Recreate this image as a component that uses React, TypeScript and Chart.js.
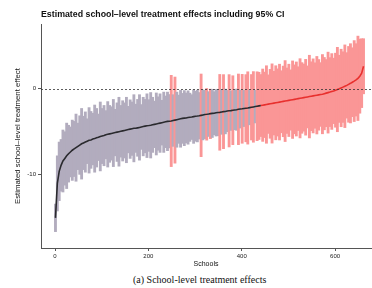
import React, { useEffect, useRef } from "react";
import { Chart, registerables } from "chart.js";

Chart.register(...registerables);

const titleText = "Estimated school\u2013level treatment effects including 95% CI";
const yAxisTitle = "Estimated school\u2013level treatment effect";
const xAxisTitle = "Schools";
const captionText = "(a) School-level treatment effects";

const xTicks = [0, 200, 400, 600];
const yTicks = [-10, 0];

// schools ranked by estimated effect; one entry every `schoolStep` ranks
const firstSchool = 1;
const schoolStep = 4;
const lineColorSwitchSchool = 440;

const estimates = [
  -15.0, -11.0, -9.6, -8.9, -8.4, -8.1, -7.8, -7.55, -7.35, -7.15,
  -7.0, -6.85, -6.7, -6.55, -6.4, -6.3, -6.2, -6.1, -6.0, -5.95,
  -5.85, -5.8, -5.7, -5.65, -5.55, -5.5, -5.45, -5.35, -5.3, -5.25,
  -5.2, -5.15, -5.1, -5.05, -5.0, -4.95, -4.9, -4.85, -4.8, -4.75,
  -4.7, -4.65, -4.6, -4.6, -4.55, -4.5, -4.45, -4.4, -4.35, -4.3,
  -4.28, -4.25, -4.2, -4.15, -4.1, -4.05, -4.0, -3.95, -3.9, -3.85,
  -3.8, -3.78, -3.75, -3.7, -3.65, -3.6, -3.55, -3.5, -3.45, -3.42,
  -3.4, -3.35, -3.32, -3.3, -3.25, -3.2, -3.18, -3.15, -3.1, -3.05,
  -3.0, -2.98, -2.95, -2.9, -2.87, -2.85, -2.8, -2.77, -2.75, -2.7,
  -2.67, -2.65, -2.6, -2.57, -2.55, -2.5, -2.47, -2.44, -2.4, -2.37,
  -2.34, -2.3, -2.27, -2.24, -2.2, -2.16, -2.12, -2.08, -2.04, -2.0,
  -1.96, -1.92, -1.88, -1.84, -1.8, -1.76, -1.72, -1.68, -1.64, -1.6,
  -1.56, -1.52, -1.48, -1.44, -1.4, -1.36, -1.32, -1.28, -1.24, -1.2,
  -1.16, -1.12, -1.08, -1.04, -1.0, -0.96, -0.92, -0.88, -0.84, -0.8,
  -0.76, -0.72, -0.68, -0.64, -0.58, -0.52, -0.46, -0.4, -0.33, -0.26,
  -0.18, -0.1, -0.02, 0.08, 0.18, 0.28, 0.38, 0.5, 0.62, 0.75,
  0.88, 1.02, 1.2, 1.45, 1.8, 2.6,
];

const ciHalfWidths = [
  1.6, 3.2, 3.4, 3.0, 3.6, 3.1, 3.8, 3.3, 2.9, 3.5,
  3.2, 3.9, 2.7, 3.4, 4.1, 3.1, 3.5, 2.6, 3.8, 3.3,
  3.0, 3.9, 3.4, 2.7, 4.0, 3.2, 3.5, 2.8, 3.8, 3.3,
  3.1, 3.9, 2.7, 3.4, 4.0, 3.0, 3.5, 3.2, 3.8, 2.7,
  3.4, 3.1, 3.9, 2.8, 3.3, 3.8, 2.6, 3.4, 3.1, 3.7,
  3.0, 3.8, 3.2, 2.7, 3.6, 3.1, 3.4, 2.6, 3.5, 3.0,
  3.4, 3.1, 5.3, 3.0, 5.0, 3.2, 2.8, 3.3, 2.9, 3.2,
  2.9, 3.1, 2.8, 2.6, 3.1, 2.9, 3.0, 2.7, 4.8, 2.9,
  2.8, 3.0, 2.6, 2.9, 2.8, 2.5, 2.7, 2.7, 4.4, 2.6,
  4.3, 2.6, 2.4, 4.2, 2.3, 4.0, 2.3, 2.4, 4.1, 2.2,
  4.0, 2.1, 3.9, 4.2, 2.0, 3.8, 4.1, 1.9, 4.0, 3.9,
  3.6, 4.2, 3.8, 4.5, 3.4, 4.0, 4.6, 3.7, 4.3, 3.9,
  4.4, 3.6, 4.1, 4.7, 3.8, 4.2, 3.5, 4.5, 4.0, 4.3,
  3.7, 4.6, 4.1, 3.9, 4.4, 3.6, 4.8, 4.0, 4.3, 3.8,
  4.5, 4.1, 3.7, 4.6, 4.2, 3.9, 4.7, 4.0, 4.4, 3.8,
  4.3, 4.9, 3.9, 4.5, 4.1, 4.8, 3.8, 4.4, 4.6, 4.0,
  4.7, 4.2, 4.9, 4.3, 4.0, 3.2,
];

const greyBar = "rgb(178,172,190)";
const redBar = "rgb(250,150,150)";
const lineDark = "#2a2a2e";
const lineRed = "#e8302e";

const zeroLinePlugin = {
  id: "zeroLine",
  afterDatasetsDraw(chart: any) {
    const { ctx, chartArea, scales } = chart;
    const y = Math.round(scales.y.getPixelForValue(0)) + 0.5;
    ctx.save();
    ctx.strokeStyle = "#333";
    ctx.lineWidth = 0.8;
    ctx.setLineDash([2, 2]);
    ctx.beginPath();
    ctx.moveTo(chartArea.left, y);
    ctx.lineTo(chartArea.right, y);
    ctx.stroke();
    ctx.restore();
  },
};

export default function App() {
  const canvasRef = useRef<HTMLCanvasElement | null>(null);

  useEffect(() => {
    if (!canvasRef.current) return;
    Chart.defaults.font.family = "'Liberation Sans', Arial, sans-serif";
    const school = (i: number) => firstSchool + i * schoolStep;
    const barData = estimates.map((e, i) => ({
      x: school(i),
      y: [e - ciHalfWidths[i], e + ciHalfWidths[i]],
    }));
    const lineData = estimates.map((e, i) => ({ x: school(i), y: e }));

    const chart = new Chart(canvasRef.current, {
      type: "bar",
      data: {
        datasets: [
          {
            type: "line",
            data: lineData,
            borderWidth: 1.6,
            pointRadius: 0,
            tension: 0,
            order: 0,
            borderColor: lineDark,
            segment: {
              borderColor: (ctx: any) =>
                ctx.p0.parsed.x >= lineColorSwitchSchool ? lineRed : lineDark,
            },
          } as any,
          {
            type: "bar",
            data: barData as any,
            order: 1,
            barThickness: 2.2,
            backgroundColor: (ctx: any) => {
              const r = ctx.raw;
              return r && r.y[1] >= 0 ? redBar : greyBar;
            },
            borderWidth: 0,
          } as any,
        ],
      },
      options: {
        responsive: false,
        animation: false,
        devicePixelRatio: 1,
        layout: { padding: { left: 0, right: 1, top: 0, bottom: 0 } },
        plugins: {
          legend: { display: false },
          tooltip: { enabled: false },
          title: {
            display: true,
            text: titleText,
            align: "start",
            fullSize: false,
            color: "#111",
            font: { size: 8.8, weight: "bold" },
            padding: { top: 9.5, bottom: 4 },
          },
        },
        scales: {
          x: {
            type: "linear",
            min: -30,
            max: 677,
            offset: false,
            afterBuildTicks: (s: any) => {
              s.ticks = xTicks.map((v) => ({ value: v }));
            },
            afterFit: (s: any) => {
              s.height = 22;
            },
            grid: {
              display: true,
              offset: false,
              drawOnChartArea: false,
              drawTicks: true,
              tickLength: 3,
              color: "#555",
            },
            border: { display: true, color: "#555", width: 1 },
            ticks: { font: { size: 6 }, color: "#222", padding: 2, maxRotation: 0 },
            title: {
              display: true,
              text: xAxisTitle,
              color: "#111",
              font: { size: 7 },
              padding: { top: 0, bottom: 2 },
            },
          },
          y: {
            type: "linear",
            min: -18.5,
            max: 7.5,
            afterBuildTicks: (s: any) => {
              s.ticks = yTicks.map((v) => ({ value: v }));
            },
            afterFit: (s: any) => {
              s.width = 41;
            },
            grid: {
              display: true,
              drawOnChartArea: false,
              drawTicks: true,
              tickLength: 3,
              color: "#555",
            },
            border: { display: true, color: "#555", width: 1 },
            ticks: { font: { size: 6 }, color: "#222", padding: 2 },
            title: {
              display: true,
              text: yAxisTitle,
              color: "#111",
              font: { size: 7.8 },
              padding: { top: 13, bottom: 0 },
            },
          },
        },
      },
      plugins: [zeroLinePlugin],
    } as any);
    return () => chart.destroy();
  }, []);

  return (
    <div style={{ position: "absolute", left: 0, top: 0, width: 372, height: 288, background: "#fff" }}>
      <canvas ref={canvasRef} width={372} height={270} style={{ display: "block" }} />
      <div
        style={{
          position: "absolute",
          left: 133,
          top: 274,
          fontFamily: "'Liberation Serif', 'DejaVu Serif', serif",
          fontSize: 10,
          lineHeight: "11px",
          color: "#111",
          whiteSpace: "nowrap",
        }}
      >
        {captionText}
      </div>
    </div>
  );
}
